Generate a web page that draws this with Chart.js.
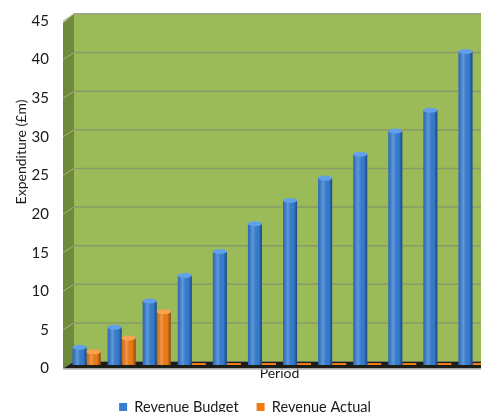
<!DOCTYPE html>
<html>
<head>
<meta charset="utf-8">
<script src="https://cdn.jsdelivr.net/npm/chart.js@4/dist/chart.umd.min.js"></script>
<style>
  html, body { margin: 0; padding: 0; overflow: hidden; background: #fff; }
  #wrap { width: 490px; height: 412px; }
</style>
</head>
<body>
<div id="wrap"><canvas id="grafica"></canvas></div>
<script>
const periodos = ['1', '2', '3', '4', '5', '6', '7', '8', '9', '10', '11', '12']
const revenueBudget = [2.3, 4.9, 8.3, 11.6, 14.7, 18.3, 21.3, 24.2, 27.3, 30.3, 33.0, 40.6]
const revenueActual = [1.7, 3.5, 6.9, 0, 0, 0, 0, 0, 0, 0, 0, 0]
const tituloY = 'Expenditure (£m)'
const tituloX = 'Period'
const fuente = 'Lato, "Open Sans", sans-serif'

// back wall, side wall, floor and gridlines (3D look)
const paredes = {
    id: 'paredes',
    beforeDatasetsDraw(chart) {
        const { ctx, chartArea: a, scales: { y } } = chart
        const d = 3.5
        const izq = a.left - 6, fondo = a.left + 5
        const top = y.getPixelForValue(45), bot = y.getPixelForValue(0)
        ctx.save()
        // back wall
        ctx.fillStyle = '#9bbb59'
        ctx.fillRect(fondo, top - d, a.right + 20 - fondo, bot - top)
        ctx.strokeStyle = '#c9c9c9'
        ctx.lineWidth = 1.5
        ctx.beginPath()
        ctx.moveTo(izq, top + d + 2)
        ctx.lineTo(fondo, top - d)
        ctx.lineTo(a.right + 20, top - d)
        ctx.stroke()
        // side wall
        ctx.fillStyle = '#6e8a3a'
        ctx.beginPath()
        ctx.moveTo(izq, top + d + 2)
        ctx.lineTo(fondo, top - d)
        ctx.lineTo(fondo, bot - d)
        ctx.lineTo(izq, bot + d)
        ctx.closePath()
        ctx.fill()
        // gridlines
        y.ticks.forEach((t) => {
            const py = y.getPixelForValue(t.value)
            if (t.value === 0) return
            ctx.strokeStyle = '#8a9a68'
            ctx.lineWidth = 1.5
            ctx.beginPath()
            ctx.moveTo(fondo, py - d)
            ctx.lineTo(a.right + 20, py - d)
            ctx.stroke()
            ctx.strokeStyle = '#a3b386'
            ctx.lineWidth = 1
            ctx.beginPath()
            ctx.moveTo(izq, py + d)
            ctx.lineTo(fondo, py - d)
            ctx.stroke()
        })
        // floor
        ctx.fillStyle = '#1d1d17'
        ctx.beginPath()
        ctx.moveTo(izq, bot + d)
        ctx.lineTo(fondo, bot - d)
        ctx.lineTo(a.right + 20, bot - d)
        ctx.lineTo(a.right + 20, bot + d)
        ctx.closePath()
        ctx.fill()
        ctx.strokeStyle = '#b5b5b5'
        ctx.lineWidth = 1.5
        ctx.beginPath()
        ctx.moveTo(izq, bot + d + 0.5)
        ctx.lineTo(a.right + 20, bot + d + 0.5)
        ctx.stroke()
        ctx.restore()
    },
    afterDatasetsDraw(chart) {
        const ctx = chart.ctx
        const tapas = ['#62a0ea', '#f8a44e']
        chart.data.datasets.forEach((ds, i) => {
            chart.getDatasetMeta(i).data.forEach((bar) => {
                const { x, y, base, width } = bar.getProps(['x', 'y', 'base', 'width'], true)
                if (base - y < 3) return
                const l = x - width / 2
                const g = ctx.createLinearGradient(l, 0, l + width, 0)
                g.addColorStop(0, 'rgba(0,0,30,0.15)')
                g.addColorStop(0.35, 'rgba(255,255,255,0.22)')
                g.addColorStop(0.75, 'rgba(0,0,0,0)')
                g.addColorStop(1, 'rgba(0,0,30,0.45)')
                ctx.save()
                ctx.fillStyle = g
                ctx.fillRect(l, y, width, base - y)
                ctx.beginPath()
                ctx.ellipse(x, y, width / 2, 2.5, 0, 0, 2 * Math.PI)
                ctx.fillStyle = tapas[i]
                ctx.fill()
                ctx.restore()
            })
        })
        // y axis title
        ctx.save()
        ctx.translate(21, 152)
        ctx.rotate(-Math.PI / 2)
        ctx.font = '14px ' + fuente
        ctx.fillStyle = '#1a1a1a'
        ctx.textAlign = 'center'
        ctx.textBaseline = 'middle'
        ctx.fillText(tituloY, 0, 0)
        ctx.restore()
    }
}

const dataConfig = {
    labels: periodos,
    datasets: [{
        label: 'Revenue Budget',
        backgroundColor: '#357dd2',
        data: revenueBudget,
        categoryPercentage: 0.8,
        barPercentage: 1.0
    }, {
        label: 'Revenue Actual',
        backgroundColor: '#f07c14',
        data: revenueActual,
        categoryPercentage: 0.8,
        barPercentage: 1.0,
        minBarLength: 2
    }]
}

const config = {
    type: 'bar',
    data: dataConfig,
    plugins: [paredes],
    options: {
        responsive: true,
        maintainAspectRatio: false,
        animation: false,
        layout: { padding: { top: 17.5, left: 0, right: 0, bottom: -12.3 } },
        scales: {
            x: {
                grid: { display: false, drawTicks: false },
                border: { display: false },
                ticks: { display: false },
                title: {
                    display: true,
                    text: tituloX,
                    color: '#1a1a1a',
                    font: { family: fuente, size: 14 },
                    padding: { top: 0, bottom: 0 }
                }
            },
            y: {
                min: 0,
                max: 45,
                grid: { display: false, drawTicks: false },
                border: { display: false },
                ticks: {
                    stepSize: 5,
                    padding: 20,
                    labelOffset: 3.5,
                    color: '#1a1a1a',
                    font: { family: fuente, size: 15 }
                },
                afterFit: (s) => {
                    s.width = 69
                    s.paddingTop = 8
                    s.paddingBottom = 8
                }
            }
        },
        plugins: {
            legend: {
                position: 'bottom',
                labels: {
                    boxWidth: 8,
                    boxHeight: 8,
                    padding: 18,
                    color: '#1a1a1a',
                    font: { family: fuente, size: 14.5 }
                }
            },
            tooltip: { enabled: false }
        }
    }
}

window.graficaUno = new Chart(document.getElementById('grafica'), config)
</script>
</body>
</html>
